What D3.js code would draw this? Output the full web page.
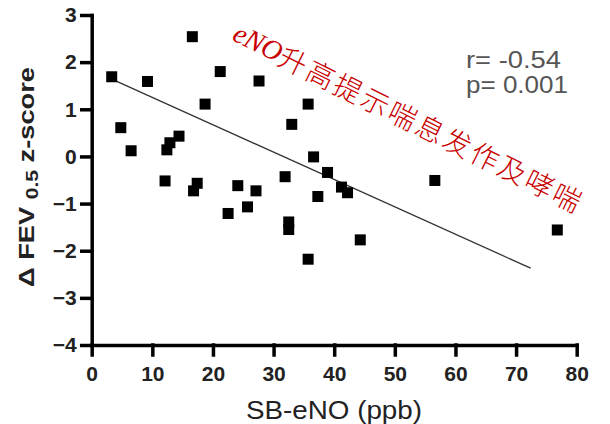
<!DOCTYPE html>
<html>
<head>
<meta charset="utf-8" />
<style>
  body { margin: 0; background: #fff; }
  svg { display: block; }
</style>
</head>
<body>
<div id="chart"></div>
<script src="https://cdn.jsdelivr.net/npm/d3@7/dist/d3.min.js"></script>
<script>

// SB-eNO (ppb) per subject
var eno = [3.3, 4.8, 6.5, 9.2, 16.6, 12.1, 12.4, 12.9, 14.4, 21.2, 18.7, 27.6, 35.7, 33.0, 36.6, 38.9,
           41.2, 42.2, 37.3, 31.9, 32.5, 32.5, 35.7, 44.3, 22.5, 25.7, 24.1, 27.1, 16.8, 17.4, 56.6, 76.8]
// delta FEV0.5 z-score per subject
var fev = [1.69, 0.61, 0.12, 1.59, 2.54, -0.52, 0.14, 0.29, 0.43, 1.80, 1.11, 1.60, 1.11, 0.68, -0.01, -0.34,
           -0.65, -0.77, -0.85, -0.43, -1.39, -1.55, -2.18, -1.77, -1.21, -1.07, -0.62, -0.73, -0.73, -0.57, -0.51, -1.56]

// regression line ends
var fitX = [3.5, 72.4]
var fitY = [1.63, -2.37]

var xTicks = [0, 10, 20, 30, 40, 50, 60, 70, 80]
var yTicks = [-4, -3, -2, -1, 0, 1, 2, 3]

var statLines = ['r= -0.54', 'p= 0.001']
var note = 'eNO升高提示喘息发作及哮喘'

var W = 610, H = 424

var svg = d3.select('#chart').append('svg')
  .attr('width', W)
  .attr('height', H)

var x = d3.scaleLinear().domain([0, 80]).range([91.7, 576.7])
var y = d3.scaleLinear().domain([-4, 3]).range([345, 15])

// axes
var xAxis = svg.append('g')
  .attr('transform', 'translate(0,' + y(-4) + ')')
  .call(d3.axisBottom(x).tickValues(xTicks).tickFormat(d3.format('d'))
    .tickSize(10).tickSizeOuter(0).tickPadding(11))

var yAxis = svg.append('g')
  .attr('transform', 'translate(' + x(0) + ',0)')
  .call(d3.axisLeft(y).tickValues(yTicks).tickFormat(d3.format('d'))
    .tickSize(10).tickSizeOuter(0).tickPadding(5))

;[xAxis, yAxis].forEach(function(a){
  a.selectAll('path, line')
    .attr('stroke', '#000')
    .attr('stroke-width', 3.5)
    .attr('stroke-linecap', 'square')
  a.selectAll('text')
    .attr('fill', '#222')
    .style('font-family', '"Liberation Sans", Arial, sans-serif')
    .style('font-size', '21px')
    .style('font-weight', 'bold')
})

// regression line
var fit = fitX.map(function(d, i){ return [d, fitY[i]] })
svg.append('path')
  .datum(fit)
  .attr('d', d3.line().x(function(d){ return x(d[0]) }).y(function(d){ return y(d[1]) }))
  .attr('stroke', '#333')
  .attr('stroke-width', 1.3)
  .attr('fill', 'none')

// points
var pts = eno.map(function(d, i){ return {x: d, y: fev[i]} })
var ms = 11
svg.append('g').selectAll('rect')
  .data(pts)
  .enter().append('rect')
  .attr('x', function(d){ return x(d.x) - ms / 2 })
  .attr('y', function(d){ return y(d.y) - ms / 2 })
  .attr('width', ms)
  .attr('height', ms)
  .attr('fill', '#000')

// r / p text
svg.append('g').selectAll('text')
  .data(statLines)
  .enter().append('text')
  .attr('x', 466)
  .attr('y', function(d, i){ return 68 + i * 25 })
  .attr('textLength', function(d, i){ return i == 0 ? 95 : 102 })
  .attr('lengthAdjust', 'spacingAndGlyphs')
  .attr('fill', '#555')
  .style('font-family', '"Liberation Sans", Arial, sans-serif')
  .style('font-size', '23px')
  .text(function(d){ return d })

// axis titles
svg.append('text')
  .attr('x', 334)
  .attr('y', 419)
  .attr('text-anchor', 'middle')
  .attr('textLength', 176)
  .attr('lengthAdjust', 'spacingAndGlyphs')
  .attr('fill', '#222')
  .style('font-family', '"Liberation Sans", Arial, sans-serif')
  .style('font-size', '26px')
  .text('SB-eNO (ppb)')

var yt = svg.append('text')
  .attr('transform', 'translate(34,177) rotate(-90)')
  .attr('text-anchor', 'middle')
  .attr('textLength', 220)
  .attr('lengthAdjust', 'spacingAndGlyphs')
  .attr('fill', '#222')
  .style('font-family', '"Liberation Sans", Arial, sans-serif')
  .style('font-size', '22px')
  .style('font-weight', 'bold')
yt.append('tspan').text('Δ FEV ')
yt.append('tspan').attr('dy', 4).style('font-size', '17px').text('0.5')
yt.append('tspan').attr('dy', -4).text(' z-score')

// red annotation
var nt = svg.append('text')
  .attr('transform', 'translate(409,117) rotate(26.5)')
  .attr('text-anchor', 'middle')
  .attr('dominant-baseline', 'central')
  .attr('fill', '#c80000')
  .style('font-size', '28px')
nt.append('tspan')
  .style('font-family', '"Liberation Serif", serif')
  .style('font-style', 'italic')
  .text(note.slice(0, 3))
nt.append('tspan')
  .style('font-family', '"Noto Sans CJK SC", sans-serif')
  .style('font-weight', '300')
  .attr('letter-spacing', 2.6)
  .text(note.slice(3))

</script>
</body>
</html>
